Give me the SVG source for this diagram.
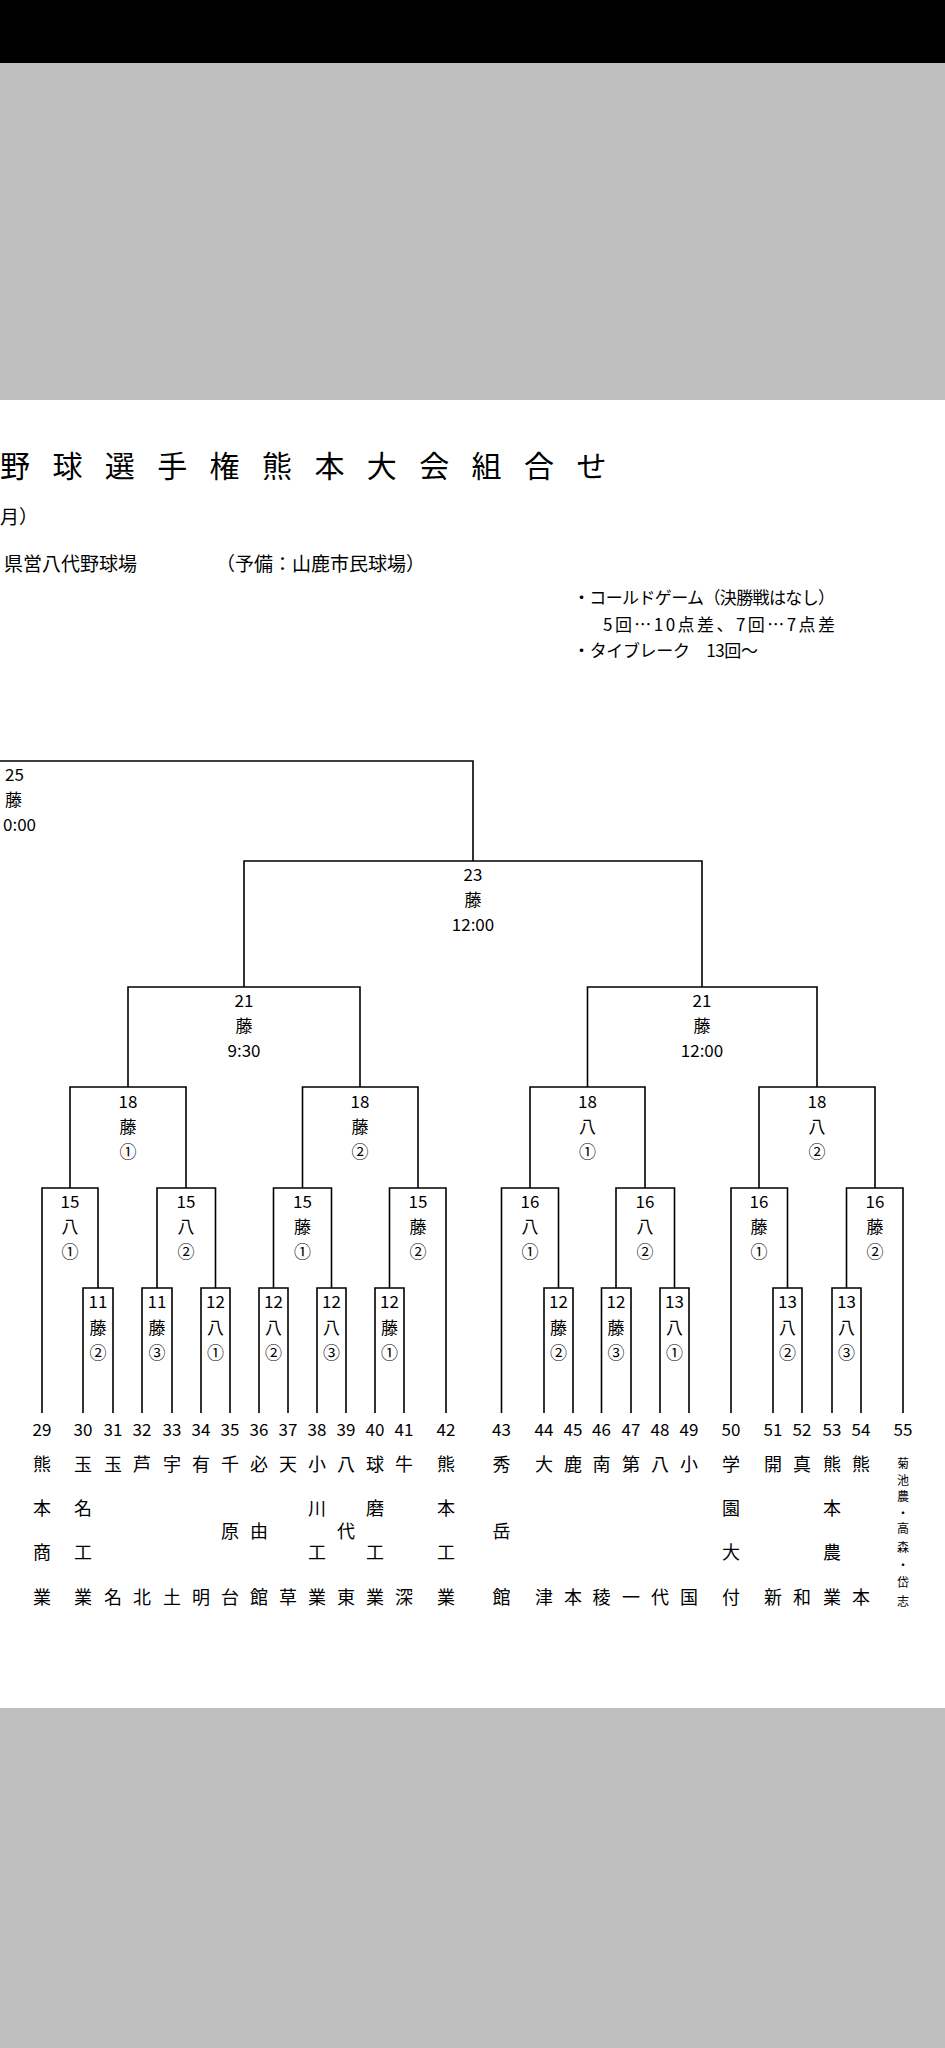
<svg xmlns="http://www.w3.org/2000/svg" width="945" height="2048" viewBox="0 0 945 2048">
<style>
.ln{fill:none;stroke:#000;stroke-width:1.6}
text{font-family:"Noto Sans CJK JP","Liberation Sans",sans-serif;fill:#000}
.b{font-size:17px;text-anchor:middle}
.n{font-size:17px;text-anchor:middle}
.s{font-size:18px;text-anchor:middle}
.h{font-size:19px}
</style>
<rect x="0" y="0" width="945" height="63" fill="#000"/>
<rect x="0" y="63" width="945" height="337" fill="#bfbfbf"/>
<rect x="0" y="400" width="945" height="1308" fill="#fff"/>
<rect x="0" y="1708" width="945" height="340" fill="#bfbfbf"/>
<g id="header">
<text x="0" y="477" font-size="30" letter-spacing="22.4">野球選手権熊本大会組合せ</text>
<text x="0" y="524" font-size="19">月）</text>
<text x="4" y="571" class="h">県営八代野球場</text>
<text x="216" y="571" class="h">（予備：山鹿市民球場）</text>
<text x="573" y="604" font-size="17" textLength="262">・コールドゲーム（決勝戦はなし）</text>
<text x="603" y="631" font-size="17" textLength="232">5回…10点差、7回…7点差</text>
<text x="573" y="657" font-size="17" textLength="185">・タイブレーク　13回〜</text>
</g>
<g id="connectors" class="ln">
<path d="M0 761H473V861"/>
<path d="M244 987V861H702V987"/>
<path d="M128 1087V987H360V1087"/>
<path d="M587.5 1087V987H817V1087"/>
<path d="M70 1188V1087H186V1188"/>
<path d="M302.5 1188V1087H418V1188"/>
<path d="M530 1188V1087H645V1188"/>
<path d="M759 1188V1087H875V1188"/>
<path d="M42 1413V1188H98V1288"/>
<path d="M157 1288V1188H215.5V1288"/>
<path d="M273.5 1288V1188H331.5V1288"/>
<path d="M389.5 1288V1188H446V1413"/>
<path d="M501.5 1413V1188H558.5V1288"/>
<path d="M616 1288V1188H674.5V1288"/>
<path d="M731 1413V1188H787.5V1288"/>
<path d="M846.5 1288V1188H903V1413"/>
<path d="M83 1413V1288H113V1413"/>
<path d="M142 1413V1288H172V1413"/>
<path d="M201 1413V1288H230V1413"/>
<path d="M259 1413V1288H288V1413"/>
<path d="M317 1413V1288H346V1413"/>
<path d="M375 1413V1288H404V1413"/>
<path d="M544 1413V1288H573V1413"/>
<path d="M601.5 1413V1288H631V1413"/>
<path d="M660 1413V1288H689V1413"/>
<path d="M773 1413V1288H802V1413"/>
<path d="M832 1413V1288H861V1413"/>
</g>
<g id="m25" font-size="17"><text x="5" y="781">25</text><text x="5" y="806">藤</text><text x="3" y="831">0:00</text></g>
<g id="m23" class="b"><text x="473" y="881">23</text><text x="473" y="906">藤</text><text x="473" y="931">12:00</text></g>
<g id="m21a" class="b"><text x="244" y="1007">21</text><text x="244" y="1032">藤</text><text x="244" y="1057">9:30</text></g>
<g id="m21b" class="b"><text x="702" y="1007">21</text><text x="702" y="1032">藤</text><text x="702" y="1057">12:00</text></g>
<g id="m18a" class="b"><text x="128" y="1108">18</text><text x="128" y="1133">藤</text><text x="128" y="1158">①</text></g>
<g id="m18b" class="b"><text x="360" y="1108">18</text><text x="360" y="1133">藤</text><text x="360" y="1158">②</text></g>
<g id="m18c" class="b"><text x="587.5" y="1108">18</text><text x="587.5" y="1133">八</text><text x="587.5" y="1158">①</text></g>
<g id="m18d" class="b"><text x="817" y="1108">18</text><text x="817" y="1133">八</text><text x="817" y="1158">②</text></g>
<g id="m15a" class="b"><text x="70" y="1208">15</text><text x="70" y="1233">八</text><text x="70" y="1258">①</text></g>
<g id="m15b" class="b"><text x="186" y="1208">15</text><text x="186" y="1233">八</text><text x="186" y="1258">②</text></g>
<g id="m15c" class="b"><text x="302.5" y="1208">15</text><text x="302.5" y="1233">藤</text><text x="302.5" y="1258">①</text></g>
<g id="m15d" class="b"><text x="418" y="1208">15</text><text x="418" y="1233">藤</text><text x="418" y="1258">②</text></g>
<g id="m16a" class="b"><text x="530" y="1208">16</text><text x="530" y="1233">八</text><text x="530" y="1258">①</text></g>
<g id="m16b" class="b"><text x="645" y="1208">16</text><text x="645" y="1233">八</text><text x="645" y="1258">②</text></g>
<g id="m16c" class="b"><text x="759" y="1208">16</text><text x="759" y="1233">藤</text><text x="759" y="1258">①</text></g>
<g id="m16d" class="b"><text x="875" y="1208">16</text><text x="875" y="1233">藤</text><text x="875" y="1258">②</text></g>
<g id="m11a" class="b"><text x="98" y="1308">11</text><text x="98" y="1334">藤</text><text x="98" y="1359">②</text></g>
<g id="m11b" class="b"><text x="157" y="1308">11</text><text x="157" y="1334">藤</text><text x="157" y="1359">③</text></g>
<g id="m12a" class="b"><text x="215.5" y="1308">12</text><text x="215.5" y="1334">八</text><text x="215.5" y="1359">①</text></g>
<g id="m12b" class="b"><text x="273.5" y="1308">12</text><text x="273.5" y="1334">八</text><text x="273.5" y="1359">②</text></g>
<g id="m12c" class="b"><text x="331.5" y="1308">12</text><text x="331.5" y="1334">八</text><text x="331.5" y="1359">③</text></g>
<g id="m12d" class="b"><text x="389.5" y="1308">12</text><text x="389.5" y="1334">藤</text><text x="389.5" y="1359">①</text></g>
<g id="m12e" class="b"><text x="558.5" y="1308">12</text><text x="558.5" y="1334">藤</text><text x="558.5" y="1359">②</text></g>
<g id="m12f" class="b"><text x="616" y="1308">12</text><text x="616" y="1334">藤</text><text x="616" y="1359">③</text></g>
<g id="m13a" class="b"><text x="674.5" y="1308">13</text><text x="674.5" y="1334">八</text><text x="674.5" y="1359">①</text></g>
<g id="m13b" class="b"><text x="787.5" y="1308">13</text><text x="787.5" y="1334">八</text><text x="787.5" y="1359">②</text></g>
<g id="m13c" class="b"><text x="846.5" y="1308">13</text><text x="846.5" y="1334">八</text><text x="846.5" y="1359">③</text></g>
<g id="numbers" class="n">
<text x="42" y="1436">29</text><text x="83" y="1436">30</text><text x="113" y="1436">31</text><text x="142" y="1436">32</text><text x="172" y="1436">33</text><text x="201" y="1436">34</text><text x="230" y="1436">35</text><text x="259" y="1436">36</text><text x="288" y="1436">37</text><text x="317" y="1436">38</text><text x="346" y="1436">39</text><text x="375" y="1436">40</text><text x="404" y="1436">41</text><text x="446" y="1436">42</text><text x="501.5" y="1436">43</text><text x="544" y="1436">44</text><text x="573" y="1436">45</text><text x="601.5" y="1436">46</text><text x="631" y="1436">47</text><text x="660" y="1436">48</text><text x="689" y="1436">49</text><text x="731" y="1436">50</text><text x="773" y="1436">51</text><text x="802" y="1436">52</text><text x="832" y="1436">53</text><text x="861" y="1436">54</text><text x="903" y="1436">55</text>
</g>
<g id="schools" class="s">
<text x="42" y="1471">熊</text><text x="42" y="1515">本</text><text x="42" y="1559">商</text><text x="42" y="1604">業</text>
<text x="83" y="1471">玉</text><text x="83" y="1515">名</text><text x="83" y="1559">工</text><text x="83" y="1604">業</text>
<text x="113" y="1471">玉</text><text x="113" y="1604">名</text>
<text x="142" y="1471">芦</text><text x="142" y="1604">北</text>
<text x="172" y="1471">宇</text><text x="172" y="1604">土</text>
<text x="201" y="1471">有</text><text x="201" y="1604">明</text>
<text x="230" y="1471">千</text><text x="230" y="1538">原</text><text x="230" y="1604">台</text>
<text x="259" y="1471">必</text><text x="259" y="1538">由</text><text x="259" y="1604">館</text>
<text x="288" y="1471">天</text><text x="288" y="1604">草</text>
<text x="317" y="1471">小</text><text x="317" y="1515">川</text><text x="317" y="1559">工</text><text x="317" y="1604">業</text>
<text x="346" y="1471">八</text><text x="346" y="1538">代</text><text x="346" y="1604">東</text>
<text x="375" y="1471">球</text><text x="375" y="1515">磨</text><text x="375" y="1559">工</text><text x="375" y="1604">業</text>
<text x="404" y="1471">牛</text><text x="404" y="1604">深</text>
<text x="446" y="1471">熊</text><text x="446" y="1515">本</text><text x="446" y="1559">工</text><text x="446" y="1604">業</text>
<text x="501.5" y="1471">秀</text><text x="501.5" y="1538">岳</text><text x="501.5" y="1604">館</text>
<text x="544" y="1471">大</text><text x="544" y="1604">津</text>
<text x="573" y="1471">鹿</text><text x="573" y="1604">本</text>
<text x="601.5" y="1471">南</text><text x="601.5" y="1604">稜</text>
<text x="631" y="1471">第</text><text x="631" y="1604">一</text>
<text x="660" y="1471">八</text><text x="660" y="1604">代</text>
<text x="689" y="1471">小</text><text x="689" y="1604">国</text>
<text x="731" y="1471">学</text><text x="731" y="1515">園</text><text x="731" y="1559">大</text><text x="731" y="1604">付</text>
<text x="773" y="1471">開</text><text x="773" y="1604">新</text>
<text x="802" y="1471">真</text><text x="802" y="1604">和</text>
<text x="832" y="1471">熊</text><text x="832" y="1515">本</text><text x="832" y="1559">農</text><text x="832" y="1604">業</text>
<text x="861" y="1471">熊</text><text x="861" y="1604">本</text>
<g font-size="12">
<text x="903" y="1468">菊</text><text x="903" y="1485">池</text><text x="903" y="1501">農</text><text x="903" y="1518">・</text><text x="903" y="1533">高</text><text x="903" y="1552">森</text><text x="903" y="1570">・</text><text x="903" y="1587">岱</text><text x="903" y="1606">志</text>
</g>
</g>
</svg>
